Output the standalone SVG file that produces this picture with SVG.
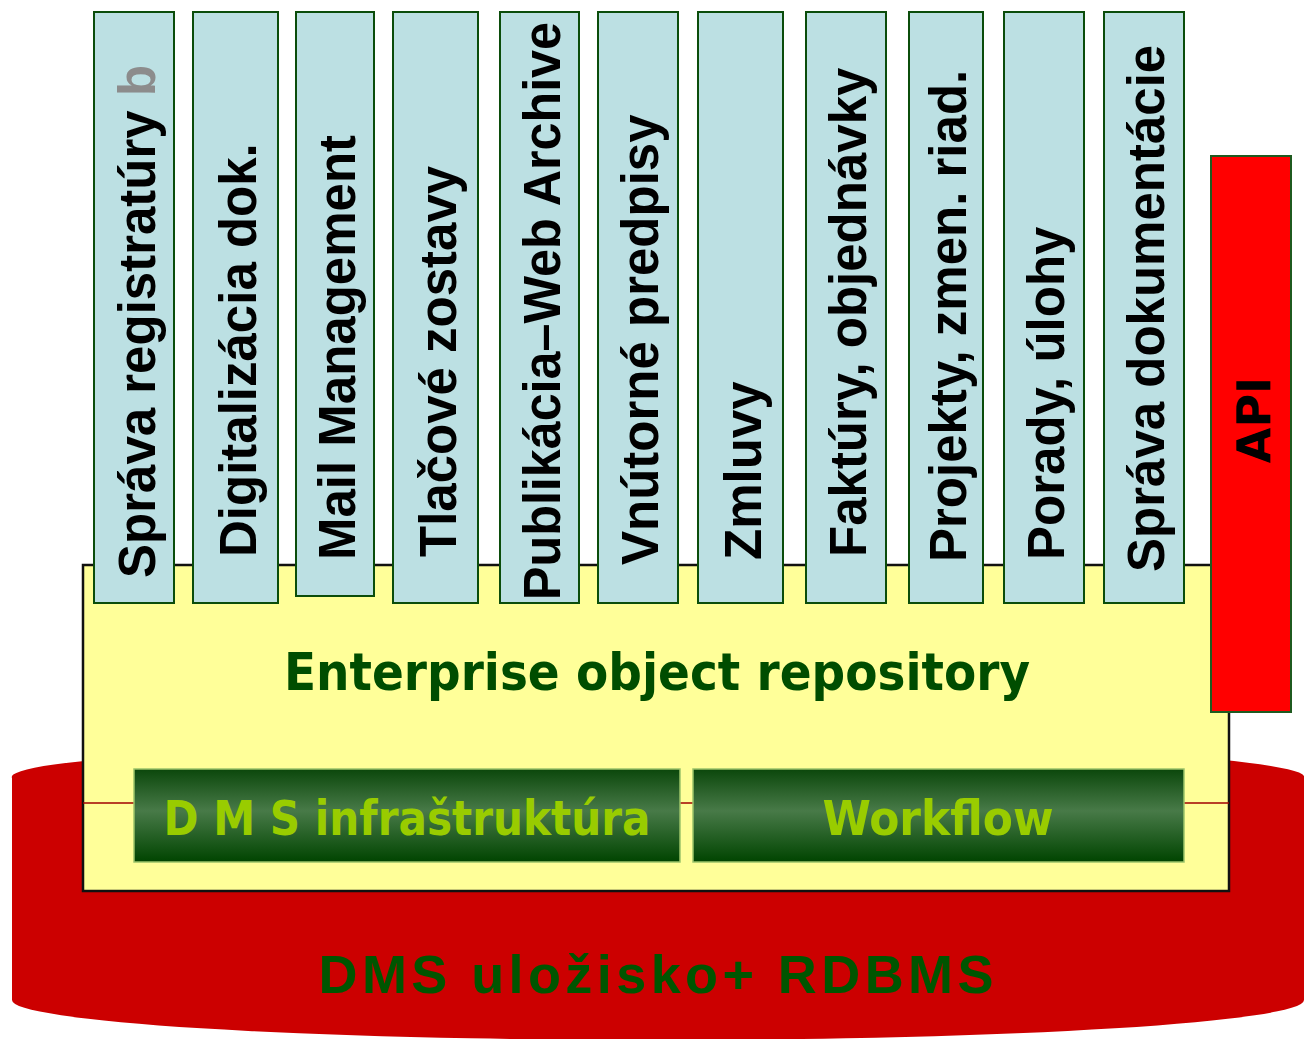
<svg xmlns="http://www.w3.org/2000/svg" width="1304" height="1039" viewBox="0 0 1304 1039">
  <defs>
    <linearGradient id="greenBar" x1="0" y1="0" x2="0" y2="1">
      <stop offset="0" stop-color="#0b470b"/>
      <stop offset="0.45" stop-color="#487a48"/>
      <stop offset="1" stop-color="#004400"/>
    </linearGradient>
    <style>
      .col { fill: #bce0e3; stroke: #0b4d0b; stroke-width: 2; }
      .colText { font-family: "Liberation Sans", Arial, sans-serif; font-weight: bold; font-size: 51px; fill: #000; }
      .bar { fill: url(#greenBar); stroke: #9cc46a; stroke-width: 1.5; }
      .barText { font-family: "DejaVu Sans Condensed", "DejaVu Sans", sans-serif; font-weight: bold; font-size: 48px; fill: #99cc00; text-anchor: middle; }
    </style>
  </defs>

  <rect width="1304" height="1039" fill="#ffffff"/>

  <!-- storage cylinder -->
  <g id="storage">
    <path d="M12,778 A646,35 0 0 1 1304,776 L1304,1000 A646,40 0 0 1 12,1000 Z" fill="#cc0000"/>
    <text x="656" y="993" text-anchor="middle" textLength="675" lengthAdjust="spacing" font-family="Liberation Sans, Arial, sans-serif" font-weight="bold" font-size="54" fill="#005500">DMS uložisko+ RDBMS</text>
  </g>

  <!-- repository layer -->
  <g id="repository">
    <rect x="83" y="565" width="1146" height="326" fill="#ffff99" stroke="#111" stroke-width="2.5"/>
    <text x="657" y="690" text-anchor="middle" textLength="746" lengthAdjust="spacingAndGlyphs" font-family="DejaVu Sans Condensed, DejaVu Sans, sans-serif" font-weight="bold" font-size="52" fill="#004d00">Enterprise object repository</text>
  </g>

  <g id="connectors">
    <line x1="83" y1="803" x2="1229" y2="803" stroke="#a00000" stroke-width="1.5"/>
  </g>

  <g id="dms-infra">
    <rect class="bar" x="134" y="769" width="546" height="93"/>
    <text class="barText" x="407" y="835" textLength="487" lengthAdjust="spacingAndGlyphs">D M S infraštruktúra</text>
  </g>
  <g id="workflow">
    <rect class="bar" x="693" y="769" width="491" height="93"/>
    <text class="barText" x="938" y="835" textLength="231" lengthAdjust="spacingAndGlyphs">Workflow</text>
  </g>

  <!-- application modules -->
  <g id="m1">
    <rect class="col" x="94" y="12" width="80" height="591"/>
    <text class="colText" transform="translate(155,578) rotate(-90)">Správa registratúry <tspan fill="#8c8c8c">b</tspan></text>
  </g>
  <g id="m2">
    <rect class="col" x="193" y="12" width="85" height="591"/>
    <text class="colText" transform="translate(256,557) rotate(-90)">Digitalizácia dok.</text>
  </g>
  <g id="m3">
    <rect class="col" x="296" y="12" width="78" height="584"/>
    <text class="colText" transform="translate(355,560) rotate(-90)">Mail Management</text>
  </g>
  <g id="m4">
    <rect class="col" x="393" y="12" width="85" height="591"/>
    <text class="colText" transform="translate(456,557) rotate(-90)">Tlačové zostavy</text>
  </g>
  <g id="m5">
    <rect class="col" x="500" y="12" width="79" height="591"/>
    <text class="colText" transform="translate(560,600) rotate(-90)" textLength="578" lengthAdjust="spacingAndGlyphs">Publikácia–Web Archive</text>
  </g>
  <g id="m6">
    <rect class="col" x="598" y="12" width="80" height="591"/>
    <text class="colText" transform="translate(658,565) rotate(-90)">Vnútorné predpisy</text>
  </g>
  <g id="m7">
    <rect class="col" x="698" y="12" width="85" height="591"/>
    <text class="colText" transform="translate(761,560) rotate(-90)">Zmluvy</text>
  </g>
  <g id="m8">
    <rect class="col" x="806" y="12" width="80" height="591"/>
    <text class="colText" transform="translate(866,557) rotate(-90)">Faktúry, objednávky</text>
  </g>
  <g id="m9">
    <rect class="col" x="909" y="12" width="74" height="591"/>
    <text class="colText" transform="translate(966,562) rotate(-90)">Projekty, zmen. riad.</text>
  </g>
  <g id="m10">
    <rect class="col" x="1004" y="12" width="80" height="591"/>
    <text class="colText" transform="translate(1064,560) rotate(-90)">Porady, úlohy</text>
  </g>
  <g id="m11">
    <rect class="col" x="1104" y="12" width="80" height="591"/>
    <text class="colText" transform="translate(1164,572) rotate(-90)">Správa dokumentácie</text>
  </g>

  <g id="api">
    <rect x="1211" y="156" width="80" height="556" fill="#ff0000" stroke="#1f5a1f" stroke-width="2"/>
    <text transform="translate(1270,420) rotate(-90)" text-anchor="middle" font-family="DejaVu Sans, sans-serif" font-weight="bold" font-size="46" fill="#000">API</text>
  </g>
</svg>
